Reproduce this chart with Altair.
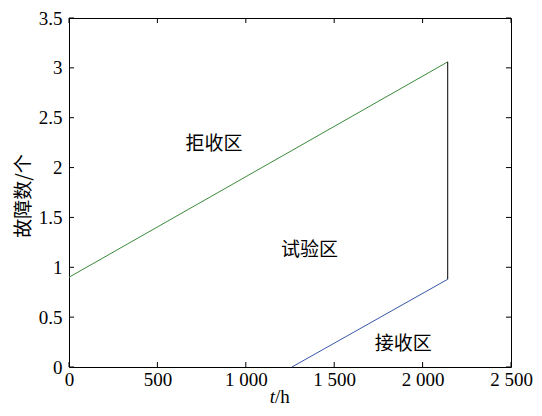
import altair as alt
import pandas as pd

# Boundary lines
green_t = [0, 2142]
green_n = [0.90, 3.06]
blue_t = [1261, 2142]
blue_n = [0.0, 0.88]
black_t = [2142, 2142]
black_n = [0.88, 3.06]

# Region labels
region_labels = ["拒收区", "试验区", "接收区"]
region_t = [820, 1360, 1890]
region_n = [2.24, 1.17, 0.23]

x_ticks = [0, 500, 1000, 1500, 2000, 2500]
y_ticks = [0, 0.5, 1, 1.5, 2, 2.5, 3, 3.5]

W, H = 442, 349
SERIF = "Liberation Serif"
CJK = "Noto Sans CJK SC"

xs = alt.Scale(domain=[0, 2500], nice=False, zero=False)
ys = alt.Scale(domain=[0, 3.5], nice=False, zero=False)

x_axis = alt.Axis(values=x_ticks, labelExpr="replace(format(datum.value, ','), ',', ' ')",
                  grid=False, ticks=False, domain=False, labelFont=SERIF, labelFontSize=19,
                  labelColor="black", labelPadding=3, title=None, labelFlush=False)
y_axis = alt.Axis(values=y_ticks, format="~g", grid=False, ticks=False, domain=False,
                  labelFont=SERIF, labelFontSize=19, labelColor="black", labelPadding=7,
                  title=None)

def line(tv, nv, color):
    df = pd.DataFrame({"t": tv, "n": nv})
    return alt.Chart(df).mark_line(color=color, strokeWidth=1).encode(
        x=alt.X("t:Q", scale=xs, axis=x_axis),
        y=alt.Y("n:Q", scale=ys, axis=y_axis),
    )

green = line(green_t, green_n, "#3a8a3a")
blue = line(blue_t, blue_n, "#3658a8")
black = line(black_t, black_n, "#000000")

lab_df = pd.DataFrame({"label": region_labels, "t": region_t, "n": region_n})
labels = alt.Chart(lab_df).mark_text(font=CJK, fontSize=19, color="black").encode(
    x=alt.X("t:Q", scale=xs), y=alt.Y("n:Q", scale=ys), text="label:N"
)

xt_df = pd.DataFrame({"t": x_ticks})
yt_df = pd.DataFrame({"n": y_ticks})
tick_b = alt.Chart(xt_df).mark_rule(color="black").encode(
    x=alt.X("t:Q", scale=xs), y=alt.value(H), y2=alt.value(H - 5))
tick_t = alt.Chart(xt_df).mark_rule(color="black").encode(
    x=alt.X("t:Q", scale=xs), y=alt.value(0), y2=alt.value(5))
tick_l = alt.Chart(yt_df).mark_rule(color="black").encode(
    y=alt.Y("n:Q", scale=ys), x=alt.value(0), x2=alt.value(5))
tick_r = alt.Chart(yt_df).mark_rule(color="black").encode(
    y=alt.Y("n:Q", scale=ys), x=alt.value(W), x2=alt.value(W - 5))

title_df = pd.DataFrame({"a": [0]})
xt1 = alt.Chart(title_df).mark_text(font=SERIF, fontSize=19, fontStyle="italic",
                                     align="right", baseline="middle", color="black").encode(
    x=alt.value(206), y=alt.value(379), text=alt.value("t"))
xt2 = alt.Chart(title_df).mark_text(font=SERIF, fontSize=19, align="left",
                                     baseline="middle", color="black").encode(
    x=alt.value(206), y=alt.value(379), text=alt.value("/h"))
yt = alt.Chart(title_df).mark_text(font=CJK, fontSize=19, angle=270, align="center",
                                    baseline="middle", color="black").encode(
    x=alt.value(-45), y=alt.value(178), text=alt.value("故障数/个"))

chart = alt.layer(green, blue, black, labels, tick_b, tick_t, tick_l, tick_r, xt1, xt2, yt).properties(
    width=W, height=H,
    background="white",
    autosize=alt.AutoSizeParams(type="none"),
    padding={"left": 61, "top": 10, "right": 23, "bottom": 41},
).configure_view(stroke="black", strokeWidth=1)

chart.save("out.html", embed_options={"renderer": "svg", "actions": False})
